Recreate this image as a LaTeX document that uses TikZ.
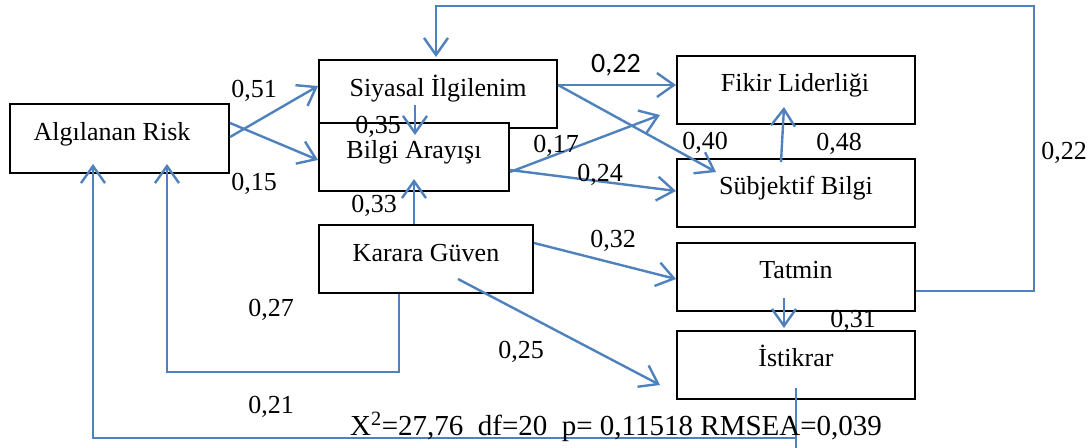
\documentclass[tikz,border=0pt]{standalone}
\usepackage{fontspec}
\setmainfont{Liberation Serif}
\newfontfamily\calib{Carlito}
\usetikzlibrary{arrows.meta,calc}
\definecolor{lblue}{HTML}{4F81BD}
\tikzset{
  box/.style={draw=black, line width=2pt, fill=white, rectangle, inner sep=0pt, minimum height=68pt},
  boxtext/.style={anchor=base, inner sep=0pt, font=\fontsize{26}{30}\selectfont},
  lab/.style={anchor=base, inner sep=0pt, font=\fontsize{26}{30}\selectfont},
  arr/.style={draw=lblue, line width=2.4pt, -{Straight Barb[length=17pt,width=24pt]}},
  fb/.style={draw=lblue, line width=1.6pt},
  fbarr/.style={draw=lblue, line width=1.6pt, -{Straight Barb[length=17pt,width=24pt,line width=2.4pt]}}
}
\begin{document}
\begin{tikzpicture}[x=1pt,y=-1pt]
\useasboundingbox (0,0) rectangle (1089,447);
% boxes
\node[box, minimum width=219pt, minimum height=69pt] (ar) at (119.5,138.5) {};
\node[box, minimum width=238pt] (si) at (438,94) {};
\node[box, minimum width=190pt] (ba) at (414,157) {};
\node[box, minimum width=214pt] (kg) at (426,259) {};
\node[box, minimum width=238pt] (fl) at (796,90) {};
\node[box, minimum width=238pt] (sb) at (796,193) {};
\node[box, minimum width=238pt] (ta) at (796,277) {};
\node[box, minimum width=238pt] (is) at (796,365) {};
% box texts
\node[boxtext] (tar) at (112,140) {Algılanan Risk};
\node[boxtext] (tsi) at (438,96) {Siyasal İlgilenim};
\node[boxtext] (tba) at (414,158) {Bilgi Arayışı};
\node[boxtext] (tkg) at (426,261) {Karara Güven};
\node[boxtext] (tfl) at (795,91) {Fikir Liderliği};
\node[boxtext] (tsb) at (796,194) {Sübjektif Bilgi};
\node[boxtext] (tta) at (796,278) {Tatmin};
\node[boxtext] (tis) at (796,366) {İstikrar};
% arrows
\draw[arr] ($(ar.east)+(0,-1.5)$) -- ($(si.west)+(0,-8)$);
\draw[arr] ($(ar.east)+(0,-15.5)$) -- ($(ba.west)+(0,3)$);
\draw[arr] ($(si.center)+(-23,11)$) -- ($(ba.north)+(1,13)$);
\draw[arr] ($(kg.north)+(-12,0)$) -- ($(ba.south)+(0,-13)$);
\draw[arr] ($(si.east)+(0,-9)$) -- ($(fl.west)+(0,-5)$);
\draw[arr] ($(si.east)+(0,-9)$) -- ($(sb.north)+(-80,14)$);
\draw[arr] ($(ba.east)+(0,15)$) -- ($(fl.south west)+(-16,-10)$);
\draw[arr] ($(ba.east)+(0,13)$) -- ($(sb.west)+(0,-2)$);
\draw[arr] ($(sb.north)+(-15,4)$) -- ($(fl.south)+(-12,-18)$);
\draw[arr] ($(kg.east)+(0,-16)$) -- ($(ta.west)+(0,2)$);
\draw[arr] ($(kg.center)+(32,20)$) -- ($(is.south west)+(-16,-15)$);
\draw[arr] ($(ta.south)+(-12,-14)$) -- ($(is.north)+(-12,-2)$);
% feedback paths
\coordinate (fbtop) at (1034,6);
\draw[fbarr] ($(ta.east)+(0,14)$) -| (fbtop) -| ($(si.north)+(-2,-2)$);
\draw[fbarr] ($(kg.south)+(-27,0)$) -- ($(kg.south)+(-27,78)$) -| ($(ar.south)+(47.5,-10)$);
\draw[fb] ($(is.south)+(0,-12)$) -- ($(is.south)+(0,48)$);
\draw[fbarr] ($(is.south)+(0,38)$) -| ($(ar.south)+(-26.5,-10)$);
% labels
\node[lab] (l51) at (254,97) {0,51};
\node[lab] (l15) at (254,190) {0,15};
\node[lab] (l35) at (378,133) {0,35};
\node[lab] (l33) at (374,212) {0,33};
\node[lab] (l17) at (556,152) {0,17};
\node[lab] (l24) at (600,181) {0,24};
\node[lab] (l40) at (705,149) {0,40};
\node[lab] (l48) at (839,150) {0,48};
\node[lab] (l22r) at (1064,159) {0,22};
\node[anchor=base, inner sep=0pt, font=\calib\fontsize{28}{32}\selectfont] (l22t) at (616,72) {0,22};
\node[lab] (l27) at (271,316) {0,27};
\node[lab] (l25) at (521,358) {0,25};
\node[lab] (l21) at (271,413) {0,21};
\node[lab] (l32) at (613,247) {0,32};
\node[lab] (l31) at (853,327) {0,31};
\node[anchor=base west, inner sep=0pt, font=\fontsize{29}{33}\selectfont] (stats) at (350,435) {X\textsuperscript{2}=27,76\ \ df=20\ \ p= 0,11518 RMSEA=0,039};
\end{tikzpicture}
\end{document}
